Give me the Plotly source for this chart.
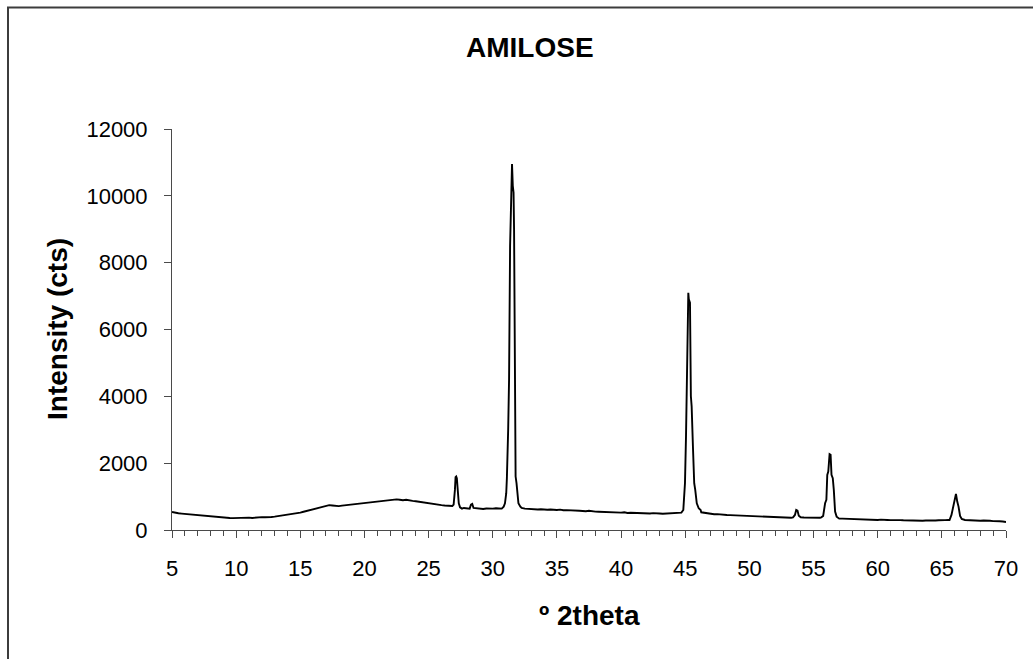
import plotly.graph_objects as go

# ---- data (2theta in degrees, intensity in counts) ----
# background readings every 0.25 deg from 5 to 70
base_counts = [
    540, 510, 500, 490,   # 5
    480, 470, 460, 455,   # 6
    445, 430, 425, 415,   # 7
    400, 395, 385, 380,   # 8
    370, 365, 360, 355,   # 9
    360, 345, 350, 365,   # 10
    370, 360, 375, 370,   # 11
    385, 380, 395, 390,   # 12
    400, 415, 410, 430,   # 13
    440, 455, 470, 490,   # 14
    520, 545, 570, 600,   # 15
    640, 660, 690, 700,   # 16
    730, 745, 735, 720,   # 17
    715, 730, 740, 760,   # 18
    770, 785, 800, 810,   # 19
    820, 830, 825, 845,   # 20
    850, 870, 880, 890,   # 21
    900, 895, 915, 905,   # 22
    890, 905, 880, 870,   # 23
    860, 845, 820, 800,   # 24
    785, 770, 760, 755,   # 25
    745, 735, 725, 720,   # 26
    710, 700, 680, 660,   # 27
    650, 640, 660, 650,   # 28
    640, 630, 645, 635,   # 29
    640, 650, 645, 660,   # 30
    680, 700, 720, 700,   # 31
    690, 660, 640, 630,   # 32
    625, 630, 615, 620,   # 33
    610, 605, 615, 600,   # 34
    600, 610, 590, 595,   # 35
    585, 590, 580, 575,   # 36
    570, 560, 575, 555,   # 37
    550, 545, 540, 555,   # 38
    540, 530, 535, 525,   # 39
    520, 530, 510, 515,   # 40
    510, 505, 515, 500,   # 41
    500, 495, 505, 490,   # 42
    495, 485, 490, 500,   # 43
    495, 505, 520, 560,   # 44
    600, 620, 600, 580,   # 45
    560, 530, 510, 495,   # 46
    480, 470, 475, 460,   # 47
    455, 450, 445, 440,   # 48
    435, 440, 425, 420,   # 49
    420, 410, 405, 400,   # 50
    395, 400, 390, 385,   # 51
    380, 385, 375, 370,   # 52
    370, 365, 380, 420,   # 53
    400, 375, 370, 365,   # 54
    360, 355, 365, 370,   # 55
    380, 400, 420, 400,   # 56
    350, 340, 335, 330,   # 57
    325, 330, 320, 315,   # 58
    320, 310, 315, 305,   # 59
    300, 310, 295, 300,   # 60
    295, 300, 290, 295,   # 61
    290, 285, 295, 280,   # 62
    285, 280, 275, 285,   # 63
    280, 275, 285, 290,   # 64
    285, 295, 300, 310,   # 65
    360, 340, 320, 300,   # 66
    295, 285, 290, 280,   # 67
    275, 285, 270, 275,   # 68
    265, 270, 260, 255,   # 69
    240,                  # 70
]
base_theta = [5 + 0.25 * i for i in range(len(base_counts))]

peak_a_theta = [26.85, 26.95, 27.0, 27.05, 27.1, 27.15, 27.2, 27.25, 27.3, 27.35, 27.45, 27.6]
peak_a_counts = [720, 760, 900, 1200, 1580, 1600, 1550, 1200, 1150, 800, 680, 640]

peak_b_theta = [28.2, 28.3, 28.4, 28.5]
peak_b_counts = [640, 760, 780, 660]

peak_c_theta = [30.7, 30.85, 30.95, 31.05, 31.1, 31.2, 31.27, 31.35, 31.45, 31.5,
                31.56, 31.62, 31.66, 31.72, 31.78, 31.85, 31.92, 32.0, 32.15]
peak_c_counts = [640, 700, 800, 1100, 1550, 3000, 4500, 8500, 10900, 10950,
                 10300, 10100, 9000, 4500, 1600, 1400, 1000, 800, 700]

peak_d_theta = [44.7, 44.85, 44.92, 44.98, 45.06, 45.16, 45.24, 45.28, 45.37, 45.44,
                45.5, 45.6, 45.7, 45.78, 45.9, 46.05, 46.2]
peak_d_counts = [520, 600, 900, 1400, 2800, 5700, 7100, 6900, 6800, 4000,
                 3700, 2500, 1400, 1200, 800, 650, 600]

peak_e_theta = [53.4, 53.55, 53.65, 53.75, 53.85, 54.0]
peak_e_counts = [380, 450, 600, 580, 430, 380]

peak_f_theta = [55.6, 55.75, 55.9, 56.0, 56.07, 56.15, 56.25, 56.33, 56.4, 56.5,
                56.58, 56.68, 56.8, 57.0]
peak_f_counts = [380, 420, 800, 900, 1650, 1750, 2270, 2250, 1650, 1550,
                 1200, 550, 400, 340]

peak_g_theta = [65.6, 65.75, 65.88, 65.95, 66.05, 66.1, 66.2, 66.3, 66.42, 66.55, 66.8]
peak_g_counts = [300, 450, 700, 850, 1050, 1080, 850, 700, 420, 330, 300]

x_ticks = [5, 10, 15, 20, 25, 30, 35, 40, 45, 50, 55, 60, 65, 70]
y_ticks = [0, 2000, 4000, 6000, 8000, 10000, 12000]
y_tick_labels = ["0", "2000", "4000", "6000", "8000", "10000", "12000"]

# ---- merge background and peak readings ----
peaks = [(peak_a_theta, peak_a_counts), (peak_b_theta, peak_b_counts),
         (peak_c_theta, peak_c_counts), (peak_d_theta, peak_d_counts),
         (peak_e_theta, peak_e_counts), (peak_f_theta, peak_f_counts),
         (peak_g_theta, peak_g_counts)]
pts = [(t, c) for t, c in zip(base_theta, base_counts)
       if not any(min(pt) <= t <= max(pt) for pt, _ in peaks)]
for pt, pc in peaks:
    pts += list(zip(pt, pc))
pts.sort()
xs = [p[0] for p in pts]
ys = [p[1] for p in pts]

# ---- figure ----
L, R, T, B = 172, 27, 129, 129
W, H = 1033, 659
pw, ph = W - L - R, H - T - B


def px(xp):
    return (xp - L) / pw


def py(yp):
    return (H - B - yp) / ph


FONT = "Arial, Liberation Sans, sans-serif"
AXC = "#4a4a4a"

fig = go.Figure()
fig.add_trace(go.Scatter(x=xs, y=ys, mode="lines",
                         line=dict(color="black", width=1.9),
                         showlegend=False, hoverinfo="x+y"))

fig.update_layout(
    width=W, height=H,
    margin=dict(l=L, r=R, t=T, b=B, pad=0),
    paper_bgcolor="white", plot_bgcolor="white",
    font=dict(family=FONT, color="black"),
    xaxis=dict(range=[5, 70], tickvals=x_ticks, ticks="outside", ticklen=7,
               tickcolor=AXC, tickwidth=1, showline=True, linecolor=AXC,
               linewidth=1, showgrid=False, zeroline=False,
               tickfont=dict(size=22, family=FONT, color="black"),
               ticklabelstandoff=12,
               minor=dict(dtick=1, ticks="outside", ticklen=5,
                          tickcolor=AXC, showgrid=False)),
    xaxis2=dict(range=[5, 70], tickvals=x_ticks, ticks="inside", ticklen=7,
                tickcolor=AXC, overlaying="x", side="bottom", anchor="y",
                showticklabels=False, showline=False, showgrid=False,
                zeroline=False),
    yaxis=dict(range=[0, 12000], tickvals=y_ticks, ticktext=y_tick_labels,
               ticks="outside", ticklen=7,
               tickcolor=AXC, showline=True, linecolor=AXC, linewidth=1,
               showgrid=False, zeroline=False,
               tickfont=dict(size=22, family=FONT, color="black"),
               ticklabelstandoff=12),
    annotations=[
        dict(text="<b>AMILOSE</b>", x=px(530), y=py(47), xref="paper", yref="paper",
             xanchor="center", yanchor="middle", showarrow=False,
             font=dict(size=28, family=FONT, color="black")),
        dict(text="<b>Intensity (cts)</b>", x=px(57), y=py(329), xref="paper",
             yref="paper", xanchor="center", yanchor="middle", showarrow=False,
             textangle=-90, font=dict(size=28, family=FONT, color="black")),
        dict(text="<b>º 2theta</b>", x=0.5, y=py(615), xref="paper", yref="paper",
             xanchor="center", yanchor="middle", showarrow=False,
             font=dict(size=28, family=FONT, color="black")),
    ],
    shapes=[dict(type="rect", xref="paper", yref="paper",
                 x0=px(8), x1=px(1045), y0=py(675), y1=py(7.5),
                 line=dict(color="#3c3c3c", width=2), fillcolor="rgba(0,0,0,0)",
                 layer="above")],
)

fig.write_html("out.html")
